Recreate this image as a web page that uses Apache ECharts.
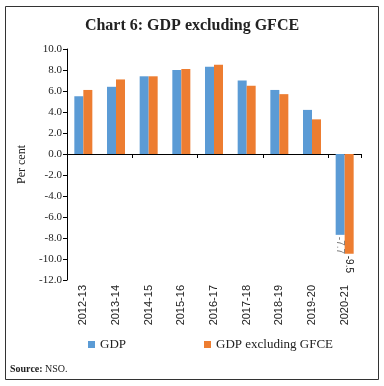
<!DOCTYPE html>
<html><head><meta charset="utf-8">
<script src="https://cdn.jsdelivr.net/npm/echarts@6/dist/echarts.min.js"></script>
<style>html,body{margin:0;padding:0;background:#fff}#c{width:384px;height:386px}</style>
</head><body><div id="c"></div>
<script>
const categories = ['2012-13','2013-14','2014-15','2015-16','2016-17','2017-18','2018-19','2019-20','2020-21'];
const gdp = [5.5, 6.4, 7.4, 8.0, 8.3, 7.0, 6.1, 4.2, -7.7];
const gdpExGfce = [6.1, 7.1, 7.4, 8.1, 8.5, 6.5, 5.7, 3.3, -9.5];
const seriesNames = ['GDP', 'GDP excluding GFCE'];
const labelled = ['2020-21'];

const FONT = '"Liberation Serif", "DejaVu Serif", serif';
const SANS = '"Liberation Sans", "DejaVu Sans", sans-serif';
const chart = echarts.init(document.getElementById('c'), null, {renderer: 'canvas'});

function labelFor(cat, color) {
  return labelled.includes(cat) ? {
    show: true, position: 'bottom', rotate: -90, align: 'left', verticalAlign: 'middle',
    distance: 2, fontFamily: SANS, fontSize: 10, color: color,
    formatter: p => p.value.toFixed(1)
  } : {show: false};
}

chart.setOption({
  animation: false,
  title: {
    text: 'Chart 6: GDP excluding GFCE', left: 'center', top: 13,
    textStyle: {fontFamily: FONT, fontSize: 16, fontWeight: 'bold', color: '#222'}
  },
  grid: {left: 67, right: 23, top: 49, bottom: 106, containLabel: false},
  legend: {
    data: seriesNames, left: 83, top: 333, itemWidth: 7, itemHeight: 7, icon: 'rect', itemGap: 78,
    textStyle: {fontFamily: FONT, fontSize: 13, color: '#222'}
  },
  xAxis: [{
    type: 'category', data: categories,
    axisLine: {onZero: true, lineStyle: {color: '#000', width: 1}},
    axisTick: {show: true, inside: false, length: 4, lineStyle: {color: '#000'}},
    axisLabel: {show: false}
  }, {
    type: 'category', data: categories, position: 'bottom',
    axisLine: {show: false, onZero: false}, axisTick: {show: false},
    axisLabel: {rotate: 90, margin: 5, fontFamily: SANS, fontSize: 11, color: '#222', interval: 0}
  }],
  yAxis: {
    type: 'value', min: -12, max: 10, interval: 2,
    name: 'Per cent', nameLocation: 'middle', nameGap: 38, nameRotate: 90,
    nameTextStyle: {fontFamily: FONT, fontSize: 12, color: '#222'},
    axisLine: {show: true, lineStyle: {color: '#000', width: 1}},
    axisTick: {show: true, length: 4, lineStyle: {color: '#000'}},
    splitLine: {show: false},
    axisLabel: {fontFamily: FONT, fontSize: 11, color: '#222', margin: 5, formatter: v => v.toFixed(1)}
  },
  series: [{
    name: seriesNames[0], type: 'bar', xAxisIndex: 0, barWidth: 9, barGap: '0%',
    itemStyle: {color: '#5B9BD5'},
    data: gdp.map((v, i) => ({value: v, label: labelFor(categories[i], '#777')}))
  }, {
    name: seriesNames[1], type: 'bar', xAxisIndex: 0, barWidth: 9,
    itemStyle: {color: '#ED7D31'},
    data: gdpExGfce.map((v, i) => ({value: v, label: labelFor(categories[i], '#222')}))
  }],
  graphic: [{
    type: 'rect', shape: {x: 5.5, y: 6.5, width: 373, height: 373},
    style: {fill: 'none', stroke: '#333', lineWidth: 1}, silent: true
  }, {
    type: 'text', left: 10, top: 364,
    style: {
      text: '{b|Source:} NSO.',
      rich: {b: {fontWeight: 'bold', fontFamily: FONT, fontSize: 10, fill: '#222'}},
      fontFamily: FONT, fontSize: 10, fill: '#222'
    }
  }]
});
</script></body></html>
